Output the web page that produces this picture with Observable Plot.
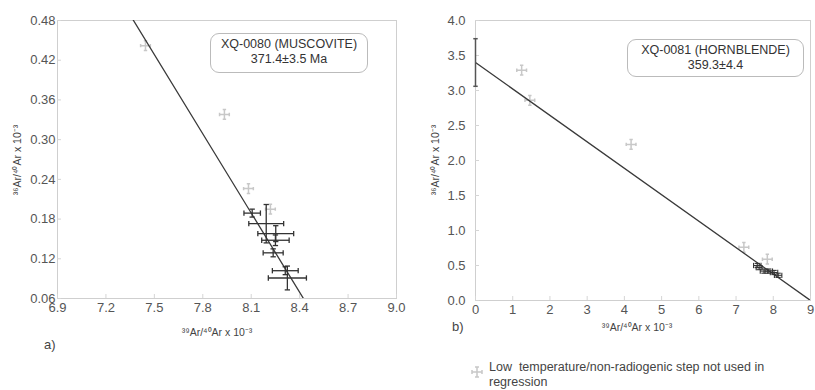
<!DOCTYPE html>
<html><head><meta charset="utf-8">
<script src="https://cdn.jsdelivr.net/npm/d3@7"></script>
<script src="https://cdn.jsdelivr.net/npm/@observablehq/plot@0.6"></script>
<style>
body{margin:0;background:#fff;font-family:"Liberation Sans",Arial,sans-serif;}
#wrap{position:relative;width:815px;height:390px;overflow:hidden;}
.abs{position:absolute;}
.box{position:absolute;border:1px solid #bbb;border-radius:9px;text-align:center;color:#333;font-size:12.5px;line-height:15px;box-sizing:border-box;padding-top:3px;}
.ttl{position:absolute;font-size:10.5px;color:#444;white-space:nowrap;transform:translate(-50%,-50%);}
.lbl{position:absolute;font-size:13px;color:#444;}
</style></head>
<body><div id="wrap"></div>
<script>
// ---- Panel a) XQ-0080 muscovite ----
const aXTicks = [6.9, 7.2, 7.5, 7.8, 8.1, 8.4, 8.7, 9.0];
const aYTicks = [0.06, 0.12, 0.18, 0.24, 0.30, 0.36, 0.42, 0.48];
const aUsedX   = [8.106, 8.193, 8.252, 8.250, 8.236, 8.311, 8.324];
const aUsedY   = [0.189, 0.173, 0.158, 0.148, 0.129, 0.102, 0.091];
const aUsedXe  = [0.051, 0.108, 0.111, 0.085, 0.062, 0.080, 0.118];
const aUsedYe  = [0.006, 0.029, 0.012, 0.008, 0.006, 0.006, 0.018];
const aNotX = [7.445, 7.934, 8.083, 8.219];
const aNotY = [0.442, 0.338, 0.226, 0.195];
const aIntercept = 3.421, aSlope = -0.399;

// ---- Panel b) XQ-0081 hornblende ----
const bXTicks = [0, 1, 2, 3, 4, 5, 6, 7, 8, 9];
const bYTicks = [0.0, 0.5, 1.0, 1.5, 2.0, 2.5, 3.0, 3.5, 4.0];
const bUsedX  = [7.57, 7.62, 7.75, 7.88, 8.02, 8.13];
const bUsedY  = [0.50, 0.47, 0.42, 0.42, 0.40, 0.36];
const bUsedXe = [0.10, 0.08, 0.10, 0.10, 0.10, 0.10];
const bUsedYe = [0.03, 0.03, 0.03, 0.03, 0.03, 0.03];
const bNotX = [1.24, 1.46, 4.18, 7.21, 7.84];
const bNotY = [3.29, 2.86, 2.23, 0.76, 0.59];
const bIntercept = 3.40, bSlope = -0.3778;
const bInterceptErrLo = 3.06, bInterceptErrHi = 3.74;

const hcap = {draw(c, s){const h=Math.sqrt(s); c.moveTo(-h/2,0); c.lineTo(h/2,0);}};
const vcap = {draw(c, s){const h=Math.sqrt(s); c.moveTo(0,-h/2); c.lineTo(0,h/2);}};
const plus = {draw(c, s){const h=Math.sqrt(s)/2, k=h*0.35;
  c.moveTo(-h,0); c.lineTo(h,0); c.moveTo(0,-h); c.lineTo(0,h);
  c.moveTo(-h,-k); c.lineTo(-h,k); c.moveTo(h,-k); c.lineTo(h,k);
  c.moveTo(-k,-h); c.lineTo(k,-h); c.moveTo(-k,h); c.lineTo(k,h);}};

function rows(xs, ys, xe, ye){ return xs.map((x,i)=>({x, y:ys[i], xe: xe?xe[i]:0, ye: ye?ye[i]:0})); }

function errMarks(data, color, sw){
  return [
    Plot.link(data, {x1:d=>d.x-d.xe, x2:d=>d.x+d.xe, y1:"y", y2:"y", stroke:color, strokeWidth:sw}),
    Plot.link(data, {x1:"x", x2:"x", y1:d=>d.y-d.ye, y2:d=>d.y+d.ye, stroke:color, strokeWidth:sw}),
    Plot.dot(data, {x:d=>d.x-d.xe, y:"y", symbol:vcap, r:3, stroke:color, strokeWidth:sw, fill:"none"}),
    Plot.dot(data, {x:d=>d.x+d.xe, y:"y", symbol:vcap, r:3, stroke:color, strokeWidth:sw, fill:"none"}),
    Plot.dot(data, {x:"x", y:d=>d.y-d.ye, symbol:hcap, r:3, stroke:color, strokeWidth:sw, fill:"none"}),
    Plot.dot(data, {x:"x", y:d=>d.y+d.ye, symbol:hcap, r:3, stroke:color, strokeWidth:sw, fill:"none"})
  ];
}

const common = {fontFamily:'"Liberation Sans", Arial, sans-serif', fontSize:"13px", background:"transparent", overflow:"visible"};

const aDomX = [aXTicks[0], aXTicks[aXTicks.length-1]];
const aLine = aDomX.map(x=>({x, y:aIntercept + aSlope*x}));
const plotA = Plot.plot({
  width:410, height:340, marginLeft:57, marginRight:14, marginTop:20, marginBottom:42,
  style: common,
  x:{domain:aDomX}, y:{domain:[aYTicks[0], aYTicks[aYTicks.length-1]]},
  marks:[
    Plot.frame({stroke:"#cfcfcf"}),
    Plot.axisX({ticks:aXTicks, tickFormat:d=>d.toFixed(1), tickSize:-4, tickPadding:8, stroke:"#d5d5d5", fill:"#555", label:null}),
    Plot.axisY({ticks:aYTicks, tickFormat:d=>d.toFixed(2), tickSize:-4, tickPadding:6, stroke:"#d5d5d5", fill:"#555", label:null}),
    Plot.dot(rows(aNotX, aNotY), {x:"x", y:"y", symbol:plus, r:5.5, stroke:"#c8c8c8", strokeWidth:1.5, fill:"none"}),
    Plot.line(aLine, {x:"x", y:"y", stroke:"#3a3a3a", strokeWidth:1.3, clip:true}),
    ...errMarks(rows(aUsedX, aUsedY, aUsedXe, aUsedYe), "#333", 1.3)
  ]
});

const bDomX = [bXTicks[0], bXTicks[bXTicks.length-1]];
const bLine = bDomX.map(x=>({x, y:bIntercept + bSlope*x}));
const plotB = Plot.plot({
  width:405, height:340, marginLeft:65, marginRight:5, marginTop:20, marginBottom:40,
  style: common,
  x:{domain:bDomX}, y:{domain:[bYTicks[0], bYTicks[bYTicks.length-1]]},
  marks:[
    Plot.frame({stroke:"#cfcfcf"}),
    Plot.axisX({ticks:bXTicks, tickFormat:d=>String(d), tickSize:-4, tickPadding:8, stroke:"#d5d5d5", fill:"#555", label:null}),
    Plot.axisY({ticks:bYTicks, tickFormat:d=>d.toFixed(1), tickSize:-4, tickPadding:14, stroke:"#d5d5d5", fill:"#555", label:null}),
    Plot.dot(rows(bNotX, bNotY), {x:"x", y:"y", symbol:plus, r:5.5, stroke:"#c8c8c8", strokeWidth:1.5, fill:"none"}),
    Plot.line(bLine, {x:"x", y:"y", stroke:"#3a3a3a", strokeWidth:1.3, clip:true}),
    Plot.link([{x:0, y1:bInterceptErrLo, y2:bInterceptErrHi}], {x1:"x", x2:"x", y1:"y1", y2:"y2", stroke:"#555", strokeWidth:1.5}),
    Plot.dot([{x:0, y:bInterceptErrLo},{x:0, y:bInterceptErrHi}], {x:"x", y:"y", symbol:hcap, r:2.5, stroke:"#555", strokeWidth:1.5, fill:"none"}),
    ...errMarks(rows(bUsedX, bUsedY, bUsedXe, bUsedYe), "#333", 1.1)
  ]
});

const wrap = document.getElementById("wrap");
plotA.style.position="absolute"; plotA.style.left="0px"; plotA.style.top="0px";
plotB.style.position="absolute"; plotB.style.left="410px"; plotB.style.top="0px";
wrap.appendChild(plotA); wrap.appendChild(plotB);

const yTitle = "³⁶Ar/⁴⁰Ar x 10⁻³";
const xTitle = "³⁹Ar/⁴⁰Ar x 10⁻³";
wrap.insertAdjacentHTML("beforeend", `
<div class="box" style="left:210px;top:33px;width:158px;height:40px;">XQ-0080 (MUSCOVITE)<br>371.4±3.5 Ma</div>
<div class="box" style="left:627px;top:39px;width:177px;height:38px;">XQ-0081 (HORNBLENDE)<br>359.3±4.4</div>
<div class="ttl" style="left:217px;top:332px;">${xTitle}</div>
<div class="ttl" style="left:637px;top:327px;">${xTitle}</div>
<div class="ttl" style="left:17px;top:160px;transform:translate(-50%,-50%) rotate(-90deg);">${yTitle}</div>
<div class="ttl" style="left:435px;top:160px;transform:translate(-50%,-50%) rotate(-90deg);">${yTitle}</div>
<div class="lbl" style="left:44px;top:337px;">a)</div>
<div class="lbl" style="left:452px;top:319px;">b)</div>
<svg class="abs" style="left:471px;top:366px;" width="12" height="12"><g stroke="#c8c8c8" stroke-width="1.5" fill="none"><path d="M1,6H11M6,1V11M1,4V8M11,4V8M4,1H8M4,11H8"/></g></svg>
<div class="abs" style="left:489px;top:360px;font-size:12.5px;line-height:15px;color:#444;white-space:pre;">Low  temperature/non-radiogenic step not used in
regression</div>
`);
</script></body></html>
